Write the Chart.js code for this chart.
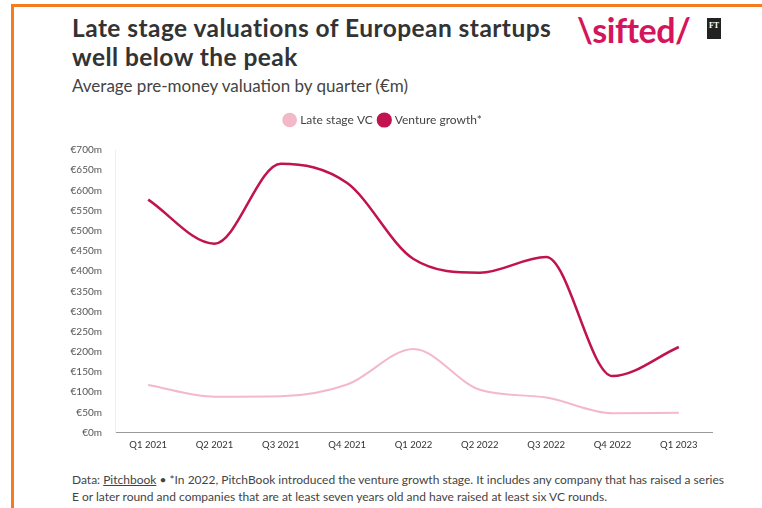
<!DOCTYPE html>
<html>
<head>
<meta charset="utf-8">
<script src="https://cdn.jsdelivr.net/npm/chart.js@4"></script>
<style>
  body { margin: 0; background: #fff; width: 762px; height: 508px; overflow: hidden; font-family: "Open Sans", sans-serif; }
  .frame { position: absolute; left: 11px; top: 4px; width: 760px; height: 520px; border-left: 3px solid #f47b20; border-top: 3px solid #f47b20; }
  .title { position: absolute; left: 72px; top: 13px; font-family: Lato, sans-serif; font-weight: 700; font-size: 24.5px; line-height: 29px; color: #333; letter-spacing: 0.45px; }
  .sub { position: absolute; left: 72px; top: 75px; font-family: Lato, sans-serif; font-size: 17px; color: #444; }
  .logo { position: absolute; left: 577px; top: 9px; font-family: Lato, sans-serif; font-weight: 700; font-size: 34px; color: #d4155c; letter-spacing: -0.5px; }
  .ft { position: absolute; left: 707px; top: 18px; width: 14px; height: 21px; background: #222; color: #fff; font: 700 8px "Liberation Serif", serif; text-align: center; line-height: 16px; }
  .foot { position: absolute; left: 72px; top: 471px; font-family: Lato, sans-serif; font-size: 12px; line-height: 17px; color: #444; }
  .foot u { text-decoration: underline; }
  #wrap { position: absolute; left: 55px; top: 107px; width: 680px; height: 347px; }
</style>
</head>
<body>
<div class="frame"></div>
<div class="title">Late stage valuations of European startups<br>well below the peak</div>
<div class="sub">Average pre-money valuation by quarter (€m)</div>
<div class="logo">\sifted/</div>
<div class="ft">FT</div>
<div id="wrap"><canvas id="myChart"></canvas></div>
<div class="foot">Data: <u>Pitchbook</u> • *In 2022, PitchBook introduced the venture growth stage. It includes any company that has raised a series<br>E or later round and companies that are at least seven years old and have raised at least six VC rounds.</div>
<script>
const quarters = ["Q1 2021", "Q2 2021", "Q3 2021", "Q4 2021", "Q1 2022", "Q2 2022", "Q3 2022", "Q4 2022", "Q1 2023"];
const late_stage = [118, 89, 90, 119, 207, 106, 87, 48, 49];
const venture_growth = [577, 468, 666, 618, 430, 396, 435, 140, 212];

// push plot area down below the legend
const legendGap = {
  id: "legendGap",
  beforeInit(chart) {
    const fit = chart.legend.fit;
    chart.legend.fit = function () {
      fit.bind(chart.legend)();
      this.height += 14;
    };
  },
};

const ctx = document.getElementById("myChart").getContext("2d");
const myChart = new Chart(ctx, {
  type: "line",
  data: {
    labels: quarters,
    datasets: [
      {
        label: "Late stage VC",
        data: late_stage,
        borderColor: "#f3b9c9",
        backgroundColor: "#f3b9c9",
        borderWidth: 2,
        pointRadius: 0,
        cubicInterpolationMode: "monotone",
      },
      {
        label: "Venture growth*",
        data: venture_growth,
        borderColor: "#c0134f",
        backgroundColor: "#c0134f",
        borderWidth: 2.5,
        pointRadius: 0,
        cubicInterpolationMode: "monotone",
      },
    ],
  },
  options: {
    responsive: true,
    maintainAspectRatio: false,
    animation: false,
    layout: { padding: { top: 0, right: 23 } },
    plugins: {
      tooltip: { enabled: false },
      legend: {
        position: "top",
        labels: {
          usePointStyle: true,
          pointStyle: "circle",
          boxWidth: 9,
          boxHeight: 9,
          padding: 7,
          color: "#444",
          font: { family: "Lato", size: 12 },
        },
      },
    },
    scales: {
      x: {
        offset: true,
        grid: { display: false, drawOnChartArea: false, drawTicks: true, tickLength: 4, tickColor: "#888" },
        border: { color: "#999" },
        ticks: { color: "#333", font: { family: "Lato", size: 9.5 }, maxRotation: 0 },
      },
      y: {
        min: 0,
        max: 700,
        afterFit: (scale) => { scale.width = 60; },
        grid: { display: false },
        border: { color: "#eee" },
        ticks: {
          stepSize: 50,
          color: "#555",
          font: { family: "Lato", size: 10 },
          padding: 5,
          callback: (v) => "€" + v + "m",
        },
      },
    },
  },
  plugins: [legendGap],
});
</script>
</body>
</html>
